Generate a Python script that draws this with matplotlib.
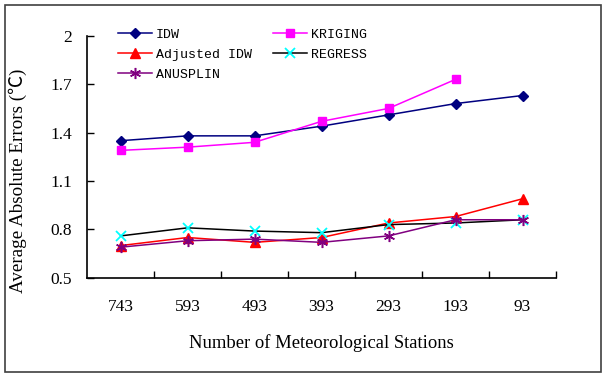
import matplotlib.pyplot as plt
from matplotlib.patches import Rectangle

stations = ['743', '593', '493', '393', '293', '193', '93']
idw = [1.35, 1.38, 1.38, 1.44, 1.51, 1.58, 1.63]
kriging = [1.29, 1.31, 1.34, 1.47, 1.55, 1.73]
adj_idw = [0.70, 0.75, 0.72, 0.75, 0.84, 0.88, 0.99]
regress = [0.76, 0.81, 0.79, 0.78, 0.83, 0.84, 0.86]
anusplin = [0.69, 0.73, 0.74, 0.72, 0.76, 0.86, 0.86]
yticks = [0.5, 0.8, 1.1, 1.4, 1.7, 2.0]
ytick_labels = ['0.5', '0.8', '1.1', '1.4', '1.7', '2']

serif = ['Liberation Serif', 'Noto Sans CJK SC']

fig = plt.figure(figsize=(6.05, 3.77), dpi=100)
ax = fig.add_axes([0.144, 0.263, 0.775, 0.642])

x = list(range(len(stations)))
h_idw, = ax.plot(x, idw, color='#000080', marker='D', ms=5, lw=1.1, label='IDW')
h_kr, = ax.plot(x[:len(kriging)], kriging, color='#FF00FF', marker='s', ms=6, lw=1.1, label='KRIGING')
h_adj, = ax.plot(x, adj_idw, color='#FF0000', marker='^', ms=7, lw=1.1, label='Adjusted IDW')
h_reg, = ax.plot(x, regress, color='#000000', marker='x', ms=7, mew=1.3, mec='#00FFFF', lw=1.1, label='REGRESS')
h_anu, = ax.plot(x, anusplin, color='#800080', marker=(6, 2, 0), ms=8, mew=1.1, lw=1.1, label='ANUSPLIN')

ax.set_xlim(-0.5, len(stations) - 0.5)
ax.set_ylim(0.5, 2.0)
ax.spines['top'].set_visible(False)
ax.spines['right'].set_visible(False)
ax.spines['left'].set_linewidth(1.2)
ax.spines['bottom'].set_linewidth(1.2)

# category axis: ticks on the boundaries, labels in the middle
ax.set_xticks([i - 0.5 for i in range(1, len(stations) + 1)])
ax.set_xticklabels([])
ax.set_xticks(x, minor=True)
ax.set_xticklabels(stations, minor=True, family=serif, fontsize=12.5)
ax.tick_params(axis='x', which='major', direction='in', length=5, width=1)
ax.tick_params(axis='x', which='minor', length=0, pad=15)

ax.set_yticks(yticks)
ax.set_yticklabels(ytick_labels, family=serif, fontsize=12.5)
ax.tick_params(axis='y', direction='in', length=5, width=1, pad=11)

ax.set_xlabel('Number of Meteorological Stations', family=serif, fontsize=13.4, labelpad=14)
ax.set_ylabel('Average Absolute Errors (℃)', family=serif, fontsize=13.7)
ax.yaxis.set_label_coords(-0.128, 0.40)

# row-wise order like the original: matplotlib fills columns first
handles = [h_idw, h_adj, h_anu, h_kr, h_reg]
ax.legend(handles=handles, ncol=2, loc='upper left', bbox_to_anchor=(0.065, 1.03), frameon=False,
          prop={'family': 'Liberation Mono', 'size': 9.5}, handlelength=2.6,
          handletextpad=0.3, columnspacing=1.6, labelspacing=0.6,
          borderaxespad=0, borderpad=0)

fig.patches.append(Rectangle((0.009, 0.013), 0.984, 0.975, transform=fig.transFigure,
                             fill=False, edgecolor='#404040', lw=1.2))

fig.savefig('out.png', dpi=100)
